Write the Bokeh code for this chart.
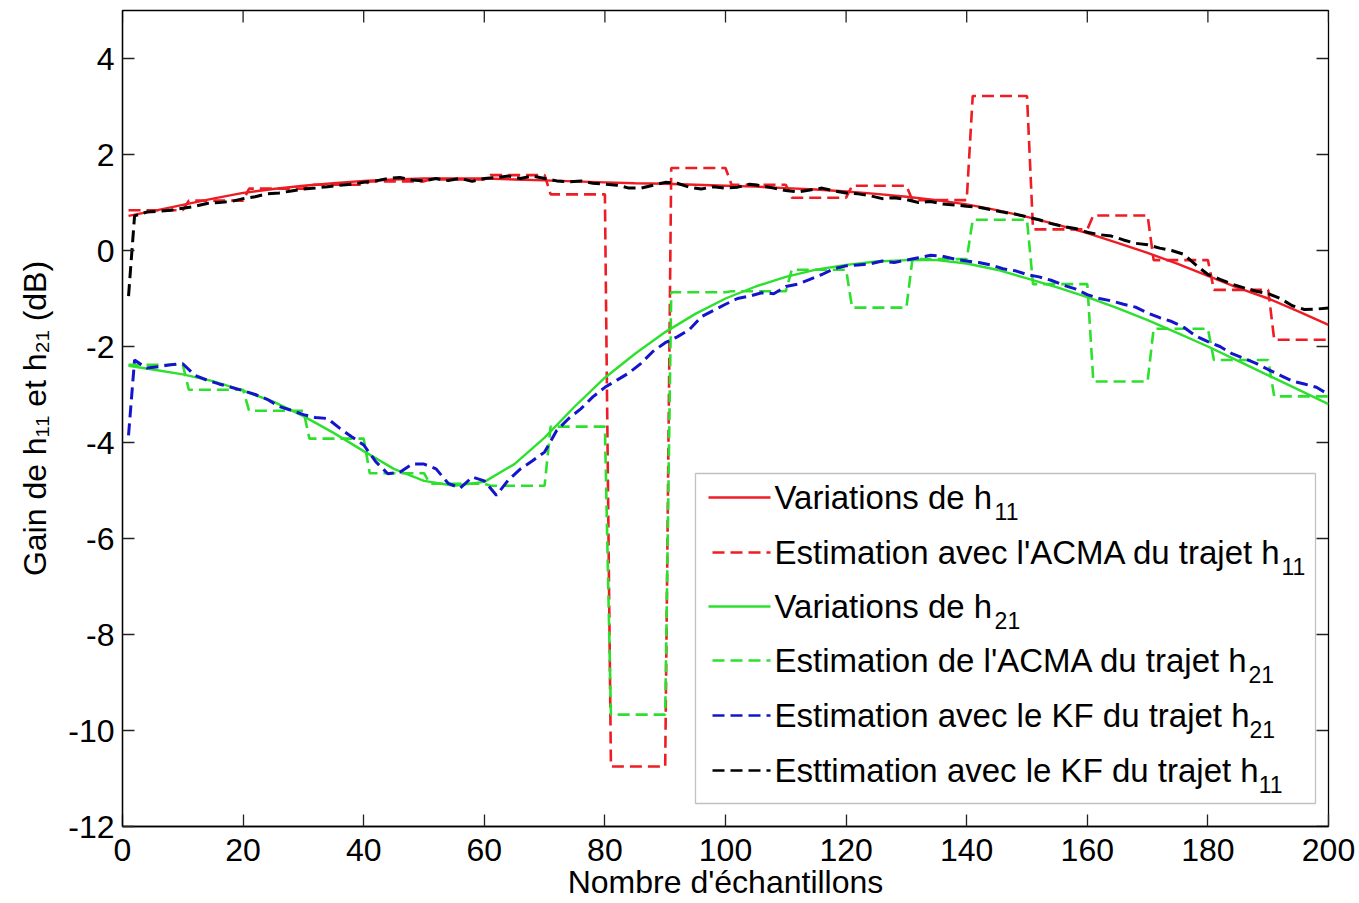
import math
from bokeh.plotting import figure
from bokeh.models import Range1d, Label, BoxAnnotation, Arrow, FixedTicker
from bokeh.embed import file_html
from bokeh.resources import INLINE

# ---------------- data ----------------
x_true = [1, 5, 10, 15, 20, 25, 30, 35, 40, 45, 50, 55, 60, 65, 70, 75, 80, 85, 90, 95, 100,
          105, 110, 115, 120, 125, 130, 135, 140, 145, 150, 155, 160, 165, 170, 175, 180, 185, 190, 195, 200]
h11_true = [0.72, 0.82, 0.95, 1.08, 1.2, 1.28, 1.35, 1.4, 1.45, 1.48, 1.5, 1.5, 1.5, 1.48, 1.46, 1.44, 1.42,
            1.4, 1.39, 1.37, 1.35, 1.33, 1.3, 1.27, 1.23, 1.18, 1.12, 1.05, 0.96, 0.84, 0.7, 0.54, 0.36,
            0.16, -0.05, -0.28, -0.53, -0.78, -1.0, -1.27, -1.55]
h21_true = [-2.4, -2.48, -2.58, -2.72, -2.92, -3.15, -3.45, -3.8, -4.18, -4.55, -4.8, -4.9, -4.82, -4.45,
            -3.9, -3.25, -2.65, -2.15, -1.7, -1.32, -1.0, -0.75, -0.55, -0.4, -0.3, -0.23, -0.2, -0.2,
            -0.27, -0.4, -0.58, -0.77, -0.97, -1.2, -1.45, -1.72, -2.0, -2.3, -2.6, -2.9, -3.2]

# ACMA estimates: one value per block of 10 samples (samples 1-10, 11-20, ... 191-200)
block_first = [1, 11, 21, 31, 41, 51, 61, 71, 81, 91, 101, 111, 121, 131, 141, 151, 161, 171, 181, 191]
block_last = [10, 20, 30, 40, 50, 60, 70, 80, 90, 100, 110, 120, 130, 140, 150, 160, 170, 180, 190, 200]
h11_acma = [0.84, 1.04, 1.29, 1.37, 1.44, 1.48, 1.57, 1.17, -10.75, 1.72, 1.37, 1.1, 1.35, 1.05,
            3.22, 0.44, 0.73, -0.2, -0.82, -1.86]
h21_acma = [-2.38, -2.9, -3.34, -3.92, -4.64, -4.86, -4.9, -3.67, -9.67, -0.87, -0.85, -0.4, -1.19,
            -0.18, 0.64, -0.7, -2.73, -1.63, -2.28, -3.04]

# Kalman filter estimates
x_kf = [1, 2, 4, 6, 8, 10, 12, 14, 16, 18, 20, 22, 24, 26, 28, 30, 32, 34, 36, 38, 40, 42, 44, 46, 48,
        50, 52, 54, 56, 58, 60, 62, 64, 66, 68, 70, 72, 74, 76, 78, 80, 82, 84, 86, 88, 90, 92, 94, 96,
        98, 100, 102, 104, 106, 108, 110, 112, 114, 116, 118, 120, 122, 124, 126, 128, 130, 132, 134,
        136, 138, 140, 142, 144, 146, 148, 150, 152, 154, 156, 158, 160, 162, 164, 166, 168, 170, 172,
        174, 176, 178, 180, 182, 184, 186, 188, 190, 192, 194, 196, 198, 200]
h11_kf = [-0.95, 0.72, 0.8, 0.82, 0.84, 0.88, 0.92, 0.98, 1.0, 1.02, 1.08, 1.12, 1.18, 1.2, 1.24, 1.28,
          1.3, 1.33, 1.36, 1.38, 1.42, 1.45, 1.5, 1.52, 1.47, 1.45, 1.5, 1.46, 1.5, 1.44, 1.5, 1.52,
          1.55, 1.5, 1.55, 1.5, 1.45, 1.43, 1.45, 1.4, 1.38, 1.36, 1.3, 1.3, 1.36, 1.42, 1.4, 1.32,
          1.28, 1.33, 1.3, 1.32, 1.38, 1.35, 1.3, 1.25, 1.22, 1.26, 1.3, 1.24, 1.2, 1.18, 1.14, 1.08,
          1.1, 1.06, 1.0, 1.02, 0.97, 0.95, 0.92, 0.9, 0.85, 0.8, 0.76, 0.7, 0.64, 0.56, 0.5, 0.46,
          0.38, 0.33, 0.3, 0.22, 0.15, 0.12, 0.05, 0.0, -0.08, -0.3, -0.5, -0.6, -0.7, -0.78, -0.85,
          -0.9, -1.0, -1.15, -1.23, -1.22, -1.2]
h21_kf = [-3.85, -2.28, -2.45, -2.42, -2.38, -2.36, -2.6, -2.7, -2.78, -2.85, -2.92, -3.0, -3.1, -3.25,
          -3.33, -3.42, -3.48, -3.5, -3.7, -3.88, -4.05, -4.4, -4.65, -4.62, -4.45, -4.45, -4.55, -4.85,
          -4.95, -4.72, -4.8, -5.1, -4.78, -4.55, -4.38, -4.2, -3.75, -3.5, -3.3, -3.05, -2.85, -2.7,
          -2.55, -2.35, -2.1, -1.92, -1.8, -1.65, -1.38, -1.25, -1.12, -1.0, -0.95, -0.88, -0.9, -0.75,
          -0.7, -0.6, -0.5, -0.38, -0.32, -0.3, -0.28, -0.22, -0.25, -0.2, -0.15, -0.1, -0.12, -0.18,
          -0.22, -0.25, -0.3, -0.38, -0.42, -0.5, -0.55, -0.62, -0.72, -0.8, -0.92, -1.0, -1.05, -1.12,
          -1.18, -1.3, -1.4, -1.48, -1.6, -1.78, -1.9, -2.0, -2.15, -2.25, -2.35, -2.48, -2.6, -2.72,
          -2.78, -2.85, -3.0]

x_ticks = [0, 20, 40, 60, 80, 100, 120, 140, 160, 180, 200]
y_ticks = [-12, -10, -8, -6, -4, -2, 0, 2, 4]
x_tick_labels = ["0", "20", "40", "60", "80", "100", "120", "140", "160", "180", "200"]
y_tick_labels = ["-12", "-10", "-8", "-6", "-4", "-2", "0", "2", "4"]

legend_entries = [
    ("Variations de h", "11"),
    ("Estimation avec l'ACMA du trajet h", "11"),
    ("Variations de h", "21"),
    ("Estimation de l'ACMA du trajet h", "21"),
    ("Estimation avec le KF du trajet h", "21"),
    ("Esttimation avec le KF du trajet h", "11"),
]
x_label = "Nombre d'échantillons"
y_label = "Gain de h\u2081\u2081 et h\u2082\u2081 (dB)"

# ---------------- styling ----------------
RED = "#ee1c24"
GREEN = "#2ee02e"
BLUE = "#1414cc"
BLACK = "#000000"
FONT = "Liberation Sans"
FS = 32
FS_LEG = 33
FS_SUB = 23

W, H = 1359, 903
X0, X1, Y0, Y1 = 0, 200, -12, 5
# frame in page pixels
PL, PR, PT, PB = 122, 1328, 10, 826
TICK = 12

def dx(px):
    return X0 + (px - PL) / (PR - PL) * (X1 - X0)

def dy(py):
    return Y0 + (PB - py) / (PB - PT) * (Y1 - Y0)

AW = {' ': 278, "'": 191, '(': 333, ')': 333, 'A': 667, 'B': 667, 'C': 722, 'D': 722, 'E': 667,
      'F': 611, 'G': 778, 'K': 667, 'M': 833, 'N': 722, 'V': 667, 'a': 556, 'b': 556, 'c': 500,
      'd': 556, 'e': 556, 'é': 556, 'g': 556, 'h': 556, 'i': 222, 'j': 222, 'l': 222, 'm': 833,
      'n': 556, 'o': 556, 'r': 333, 's': 500, 't': 278, 'u': 556, 'v': 500}

def tw(s, size):
    return sum(AW.get(c, 556) for c in s) / 1000.0 * size

p = figure(width=W, height=H, x_range=Range1d(X0, X1), y_range=Range1d(Y0, Y1),
           output_backend="svg", toolbar_location=None,
           min_border_left=PL, min_border_right=W - PR, min_border_top=PT,
           min_border_bottom=H - PB)
p.background_fill_color = "white"
p.border_fill_color = "white"
p.outline_line_color = "black"
p.outline_line_width = 1.3
p.xgrid.visible = False
p.ygrid.visible = False

def style_axis(ax, ticks, labels, standoff):
    ax.ticker = FixedTicker(ticks=ticks)
    ax.major_label_overrides = {t: l for t, l in zip(ticks, labels)}
    ax.minor_tick_line_color = None
    ax.major_tick_in = TICK
    ax.major_tick_out = 0
    ax.major_tick_line_color = "#222222"
    ax.major_tick_line_width = 1.3
    ax.axis_line_color = "black"
    ax.axis_line_width = 1.3
    ax.major_label_text_font = FONT
    ax.major_label_text_font_size = f"{FS}px"
    ax.major_label_text_color = "black"
    ax.major_label_standoff = standoff
    ax.axis_label_text_font = FONT
    ax.axis_label_text_font_size = f"{FS}px"
    ax.axis_label_text_font_style = "normal"
    ax.axis_label_text_color = "black"

style_axis(p.xaxis[0], x_ticks, x_tick_labels, 12)
style_axis(p.yaxis[0], y_ticks, y_tick_labels, 8)
p.xaxis[0].axis_label = x_label
p.xaxis[0].axis_label_standoff = 0
p.yaxis[0].axis_label = y_label
p.yaxis[0].axis_label_standoff = 12

# ticks on the top and right edges of the box (inside)
ty = TICK / (PB - PT) * (Y1 - Y0)
tx = TICK / (PR - PL) * (X1 - X0)
p.segment(x0=x_ticks, y0=[Y1] * len(x_ticks), x1=x_ticks, y1=[Y1 - ty] * len(x_ticks),
          line_color="#222222", line_width=1.3)
p.segment(x0=[X1] * len(y_ticks), y0=y_ticks, x1=[X1 - tx] * len(y_ticks), y1=y_ticks,
          line_color="#222222", line_width=1.3)

# ---------------- series ----------------
x_acma = []
for a, b in zip(block_first, block_last):
    x_acma += [a, b]
y11_acma = []
y21_acma = []
for v in h11_acma:
    y11_acma += [v, v]
for v in h21_acma:
    y21_acma += [v, v]

DASH = "12 6"
p.line(x_true, h11_true, line_color=RED, line_width=2.4)
p.line(x_acma, y11_acma, line_color=RED, line_width=2.6, line_dash=DASH)
p.line(x_true, h21_true, line_color=GREEN, line_width=2.4)
p.line(x_acma, y21_acma, line_color=GREEN, line_width=2.6, line_dash=DASH)
p.line(x_kf, h21_kf, line_color=BLUE, line_width=3, line_dash=DASH)
p.line(x_kf, h11_kf, line_color=BLACK, line_width=3, line_dash=DASH)

# ---------------- legend (drawn by hand for subscripts) ----------------
p.add_layout(BoxAnnotation(left=dx(695), right=dx(1315), top=dy(473), bottom=dy(803),
                           fill_color="white", fill_alpha=1.0, line_color="#333333",
                           line_width=1.3, level="overlay"))
row_y = [497, 552, 606, 660, 715, 770]
styles = [(RED, None, 708), (RED, DASH, 712), (GREEN, None, 708), (GREEN, DASH, 712),
          (BLUE, DASH, 712), (BLACK, DASH, 712)]
for (txt, sub), ry, (col, dash, x_s) in zip(legend_entries, row_y, styles):
    kw = dict(line_color=col, line_width=2.4, end=None, start=None, level="overlay")
    if dash:
        kw["line_dash"] = DASH
    p.add_layout(Arrow(x_start=dx(x_s), y_start=dy(ry), x_end=dx(770), y_end=dy(ry), **kw))
    base = ry
    p.add_layout(Label(x=dx(774), y=dy(base), text=txt, text_font=FONT,
                       text_font_size=f"{FS_LEG}px", text_align="left",
                       text_baseline="alphabetic", text_color="black", level="overlay"))
    p.add_layout(Label(x=dx(774 + tw(txt, FS_LEG)), y=dy(base + 14), text=sub, text_font=FONT,
                       text_font_size=f"{FS_SUB}px", text_align="left", text_baseline="alphabetic",
                       text_color="black", level="overlay"))

open("out.html", "w").write(file_html(p, INLINE))
